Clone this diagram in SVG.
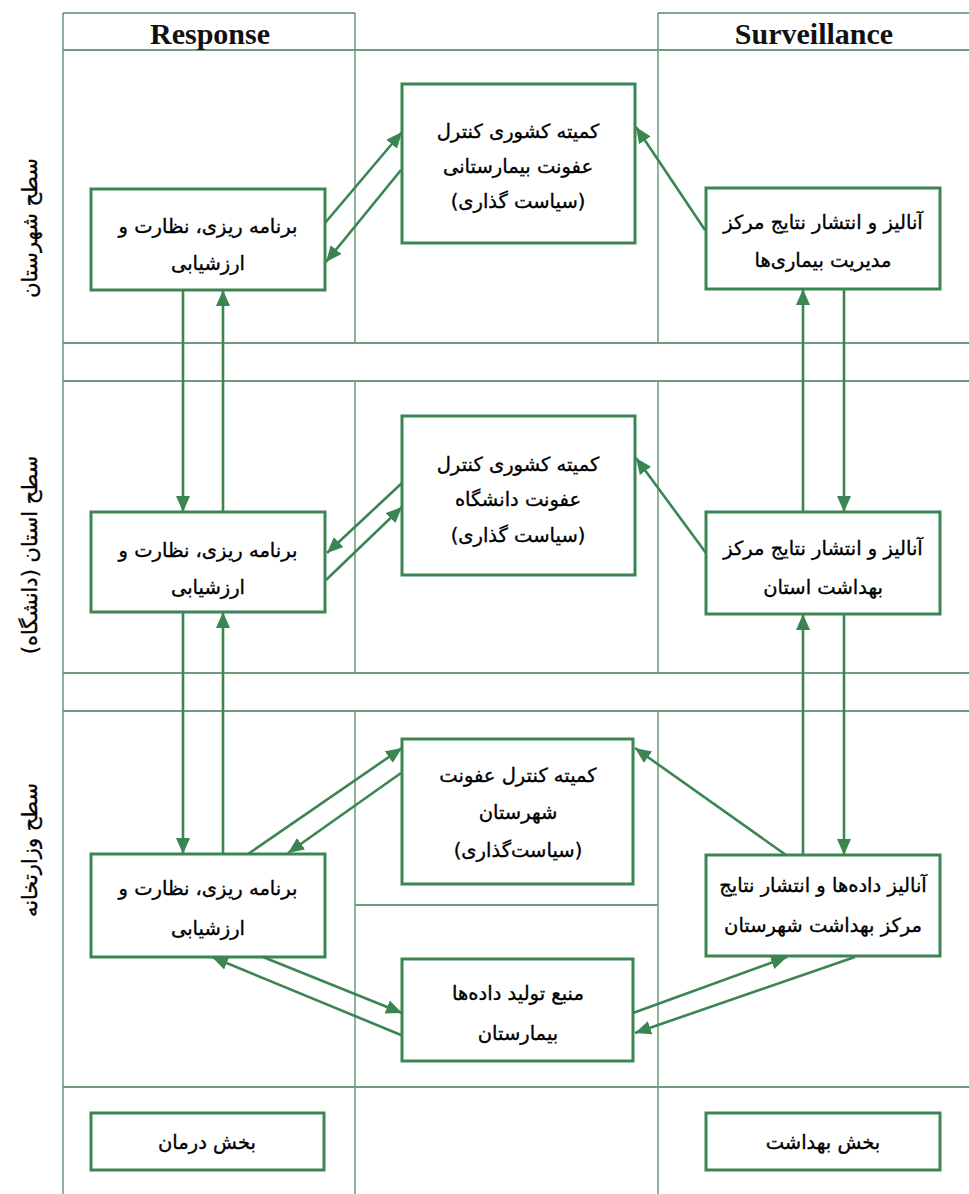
<svg xmlns="http://www.w3.org/2000/svg" width="969" height="1194" viewBox="0 0 969 1194">
<style>
.grid{stroke:#4f8a63;stroke-width:1.3;fill:none}
.band{stroke:#6f9a7c;stroke-width:2;fill:none}
.box{fill:#fff;stroke:#3b8553;stroke-width:3}
.t{font-family:"DejaVu Sans",sans-serif;font-size:19.5px;fill:#000;stroke:#000;stroke-width:0.35;text-anchor:middle;dominant-baseline:central;direction:rtl}
.h{font-family:"Liberation Serif",serif;font-weight:bold;font-size:30px;fill:#111;text-anchor:middle;dominant-baseline:central}
.side{font-family:"DejaVu Sans",sans-serif;font-size:21px;fill:#000;stroke:#000;stroke-width:0.35;text-anchor:middle;dominant-baseline:central;direction:rtl}
.c line{stroke:#3b8553;stroke-width:2.6;marker-end:url(#ah)}
</style>
<defs>
<marker id="ah" markerUnits="userSpaceOnUse" markerWidth="18" markerHeight="16" refX="16" refY="7" orient="auto">
<path d="M0,0 L16,7 L0,14 z" fill="#3b8553"/>
</marker>
</defs>
<rect width="969" height="1194" fill="#fff"/>
<g id="grid">
<line class="grid" x1="63" y1="13" x2="63" y2="1194"/>
<line class="grid" x1="63" y1="13" x2="355" y2="13"/>
<line class="grid" x1="658" y1="13" x2="969" y2="13"/>
<line class="grid" x1="355" y1="13" x2="355" y2="343"/>
<line class="grid" x1="355" y1="381" x2="355" y2="673"/>
<line class="grid" x1="355" y1="711" x2="355" y2="1194"/>
<line class="grid" x1="658" y1="13" x2="658" y2="343"/>
<line class="grid" x1="658" y1="381" x2="658" y2="673"/>
<line class="grid" x1="658" y1="711" x2="658" y2="1194"/>
<line class="band" x1="63" y1="50" x2="969" y2="50"/>
<line class="band" x1="63" y1="343" x2="969" y2="343"/>
<line class="band" x1="63" y1="381" x2="969" y2="381"/>
<line class="band" x1="63" y1="673" x2="969" y2="673"/>
<line class="band" x1="63" y1="711" x2="969" y2="711"/>
<line class="band" x1="355" y1="905" x2="658" y2="905"/>
<line class="band" x1="63" y1="1087" x2="969" y2="1087"/>
</g>
<g id="headers">
<text class="h" x="210" y="33">Response</text>
<text class="h" x="814" y="33">Surveillance</text>
</g>
<g id="levels">
<text class="side" transform="translate(30,228) rotate(-90)">سطح شهرستان</text>
<text class="side" transform="translate(30,555) rotate(-90)">سطح استان (دانشگاه)</text>
<text class="side" transform="translate(30,850) rotate(-90)">سطح وزارتخانه</text>
</g>
<g id="n1-left"><rect class="box" x="91" y="189" width="234" height="101"/>
<text class="t" x="208" y="226">برنامه ریزی، نظارت و</text><text class="t" x="208" y="263">ارزشیابی</text></g>
<g id="n1-mid"><rect class="box" x="402" y="84" width="233" height="159"/>
<text class="t" x="518" y="131">کمیته کشوری کنترل</text><text class="t" x="518" y="166">عفونت بیمارستانی</text><text class="t" x="518" y="201">(سیاست گذاری)</text></g>
<g id="n1-right"><rect class="box" x="706" y="188" width="234" height="101"/>
<text class="t" x="823" y="222">آنالیز و انتشار نتایج مرکز</text><text class="t" x="823" y="260">مدیریت بیماری‌ها</text></g>
<g id="n2-left"><rect class="box" x="91" y="512" width="234" height="100"/>
<text class="t" x="208" y="550">برنامه ریزی، نظارت و</text><text class="t" x="208" y="587">ارزشیابی</text></g>
<g id="n2-mid"><rect class="box" x="402" y="416" width="233" height="159"/>
<text class="t" x="518" y="464">کمیته کشوری کنترل</text><text class="t" x="518" y="499">عفونت دانشگاه</text><text class="t" x="518" y="535">(سیاست گذاری)</text></g>
<g id="n2-right"><rect class="box" x="706" y="512" width="234" height="102"/>
<text class="t" x="823" y="548">آنالیز و انتشار نتایج مرکز</text><text class="t" x="823" y="587">بهداشت استان</text></g>
<g id="n3-left"><rect class="box" x="91" y="854" width="234" height="103"/>
<text class="t" x="208" y="888">برنامه ریزی، نظارت و</text><text class="t" x="208" y="928">ارزشیابی</text></g>
<g id="n3-mid"><rect class="box" x="402" y="739" width="231" height="145"/>
<text class="t" x="518" y="775">کمیته کنترل عفونت</text><text class="t" x="518" y="812">شهرستان</text><text class="t" x="518" y="850">(سیاست‌گذاری)</text></g>
<g id="n3-right"><rect class="box" x="706" y="855" width="234" height="101"/>
<text class="t" x="823" y="885">آنالیز داده‌ها و انتشار نتایج</text><text class="t" x="823" y="925">مرکز بهداشت شهرستان</text></g>
<g id="n3-source"><rect class="box" x="402" y="959" width="231" height="102"/>
<text class="t" x="518" y="993">منبع تولید داده‌ها</text><text class="t" x="518" y="1033">بیمارستان</text></g>
<g id="n-treat"><rect class="box" x="91" y="1113" width="233" height="57"/>
<text class="t" x="207" y="1142">بخش درمان</text></g>
<g id="n-health"><rect class="box" x="706" y="1113" width="234" height="57"/>
<text class="t" x="823" y="1142">بخش بهداشت</text></g>
<g id="connectors" class="c">
<line x1="325" y1="223" x2="402" y2="132"/>
<line x1="401" y1="170" x2="326" y2="262"/>
<line x1="705" y1="230" x2="636" y2="127"/>
<line x1="183" y1="290" x2="183" y2="512"/>
<line x1="223" y1="512" x2="223" y2="290"/>
<line x1="803" y1="512" x2="803" y2="289"/>
<line x1="844" y1="289" x2="844" y2="512"/>
<line x1="402" y1="483" x2="327" y2="553"/>
<line x1="326" y1="580" x2="402" y2="507"/>
<line x1="706" y1="553" x2="636" y2="458"/>
<line x1="183" y1="612" x2="183" y2="854"/>
<line x1="223" y1="854" x2="223" y2="612"/>
<line x1="803" y1="855" x2="803" y2="614"/>
<line x1="844" y1="614" x2="844" y2="855"/>
<line x1="248" y1="854" x2="402" y2="748"/>
<line x1="401" y1="773" x2="288" y2="853"/>
<line x1="786" y1="855" x2="635" y2="748"/>
<line x1="263" y1="957" x2="402" y2="1013"/>
<line x1="401" y1="1035" x2="212" y2="957"/>
<line x1="633" y1="1013" x2="787" y2="957"/>
<line x1="855" y1="957" x2="635" y2="1033"/>
</g>
</svg>
